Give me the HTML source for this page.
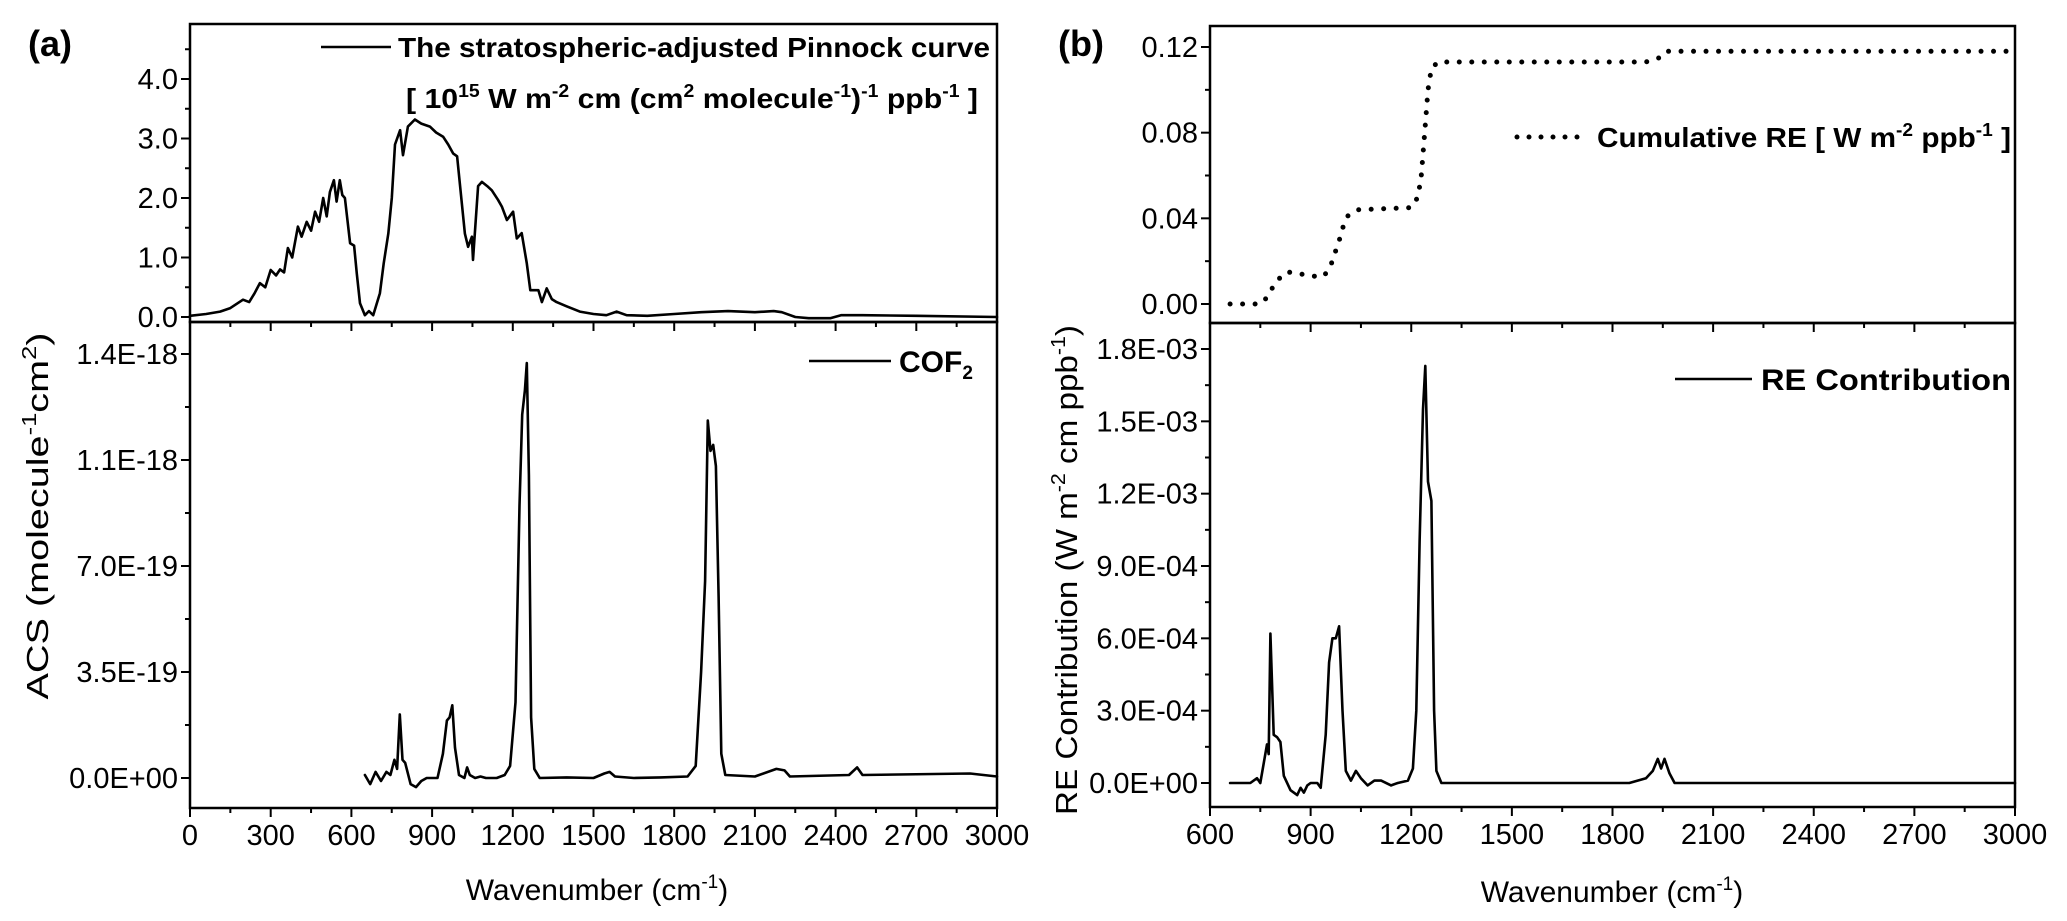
<!DOCTYPE html>
<html><head><meta charset="utf-8"><style>
html,body{margin:0;padding:0;background:#fff}
svg{display:block;font-family:"Liberation Sans",Arial,sans-serif}
</style></head><body>
<svg id="fig" width="2067" height="921" viewBox="0 0 2067 921" xmlns="http://www.w3.org/2000/svg">
<text x="28" y="56" font-size="36" font-weight="bold">(a)</text>
<text x="1058" y="56" font-size="36" font-weight="bold">(b)</text>
<g id="gA1"></g>
<g id="gA2"></g>
<g id="gB1"></g>
<g id="gB2"></g>

<g>
<line x1="321" y1="47" x2="391" y2="47" stroke="#000" stroke-width="2.5"/>
<text x="398" y="57" font-size="28" font-weight="bold" textLength="592" lengthAdjust="spacingAndGlyphs">The stratospheric-adjusted Pinnock curve</text>
<text x="406" y="108" font-size="28" font-weight="bold" textLength="572" lengthAdjust="spacingAndGlyphs">[ 10<tspan font-size="18" dy="-11">15</tspan><tspan dy="11"> W m</tspan><tspan font-size="18" dy="-11">-2</tspan><tspan dy="11"> cm (cm</tspan><tspan font-size="18" dy="-11">2</tspan><tspan dy="11"> molecule</tspan><tspan font-size="18" dy="-11">-1</tspan><tspan dy="11">)</tspan><tspan font-size="18" dy="-11">-1</tspan><tspan dy="11"> ppb</tspan><tspan font-size="18" dy="-11">-1</tspan><tspan dy="11"> ]</tspan></text>
</g>
<g>
<line x1="809" y1="361" x2="891" y2="361" stroke="#000" stroke-width="2.5"/>
<text x="899" y="372" font-size="30" font-weight="bold">COF<tspan font-size="19" dy="7">2</tspan></text>
</g>
<g>
<line x1="1517" y1="137" x2="1580" y2="137" stroke="#000" stroke-width="5" stroke-linecap="round" stroke-dasharray="0 12"/>
<text x="1597" y="147" font-size="28" font-weight="bold" textLength="414" lengthAdjust="spacingAndGlyphs">Cumulative RE [ W m<tspan font-size="18" dy="-11">-2</tspan><tspan dy="11"> ppb</tspan><tspan font-size="18" dy="-11">-1</tspan><tspan dy="11"> ]</tspan></text>
</g>
<g>
<line x1="1675" y1="379" x2="1752" y2="379" stroke="#000" stroke-width="2.5"/>
<text x="1761" y="390" font-size="30" font-weight="bold" textLength="250" lengthAdjust="spacingAndGlyphs">RE Contribution</text>
</g>

<text x="597" y="900" font-size="30" text-anchor="middle">Wavenumber (cm<tspan font-size="19" dy="-12">-1</tspan><tspan dy="12">)</tspan></text>
<text x="1612" y="902" font-size="30" text-anchor="middle">Wavenumber (cm<tspan font-size="19" dy="-12">-1</tspan><tspan dy="12">)</tspan></text>
<text transform="translate(48,516) rotate(-90)" font-size="31" text-anchor="middle" textLength="367" lengthAdjust="spacingAndGlyphs">ACS (molecule<tspan font-size="20" dy="-12">-1</tspan><tspan dy="12">cm</tspan><tspan font-size="20" dy="-12">2</tspan><tspan dy="12">)</tspan></text>
<text transform="translate(1077,570) rotate(-90)" font-size="31" text-anchor="middle" textLength="490" lengthAdjust="spacingAndGlyphs">RE Contribution (W m<tspan font-size="20" dy="-12">-2</tspan><tspan dy="12"> cm ppb</tspan><tspan font-size="20" dy="-12">-1</tspan><tspan dy="12">)</tspan></text>
</svg>
<script>
// ---- data ----
const pinnockX = [0,60,112,150,197,220,240,260,280,300,320,335,350,364,380,401,415,434,450,465,480,495,508,520,535,545,557,566,576,595,610,620,632,650,665,681,706,720,737,750,762,781,792,810,836,860,892,915,941,960,978,993,1004,1022,1034,1048,1052,1071,1085,1105,1122,1145,1160,1178,1201,1215,1233,1252,1265,1295,1308,1326,1345,1363,1400,1449,1500,1548,1586,1623,1700,1800,1900,2000,2100,2170,2200,2250,2300,2380,2420,2500,2700,3000];
const pinnockY = [0.02,0.05,0.09,0.15,0.29,0.25,0.4,0.57,0.5,0.79,0.7,0.8,0.75,1.16,1.0,1.52,1.35,1.6,1.45,1.77,1.6,2.0,1.69,2.1,2.3,1.94,2.3,2.05,2.0,1.24,1.2,0.73,0.23,0.03,0.1,0.03,0.4,0.9,1.4,2.0,2.9,3.14,2.72,3.2,3.32,3.25,3.2,3.1,3.03,2.9,2.75,2.7,2.2,1.4,1.18,1.35,0.96,2.2,2.27,2.2,2.13,1.97,1.85,1.63,1.77,1.32,1.41,0.9,0.45,0.45,0.25,0.48,0.3,0.25,0.18,0.09,0.05,0.03,0.09,0.03,0.02,0.05,0.08,0.1,0.08,0.1,0.08,0.0,-0.02,-0.02,0.03,0.03,0.02,0.0];
const acsX = [650,670,690,710,730,745,760,770,780,790,800,820,840,860,880,920,940,955,965,975,985,1000,1020,1030,1040,1060,1080,1100,1140,1170,1190,1210,1225,1235,1245,1252,1260,1268,1280,1300,1400,1500,1540,1560,1580,1650,1750,1850,1880,1900,1915,1925,1935,1945,1955,1965,1975,1990,2100,2180,2210,2230,2450,2480,2500,2900,2950,3000];
const acsY = [0.1,-0.2,0.2,-0.1,0.2,0.1,0.6,0.3,2.1,0.6,0.5,-0.2,-0.3,-0.1,0,0,0.8,1.9,2.0,2.4,1.0,0.1,0,0.35,0.1,0,0.05,0,0,0.1,0.4,2.5,9.0,12.0,12.8,13.7,10.0,2.0,0.3,0,0.02,0,0.15,0.2,0.05,0,0.02,0.05,0.4,3.5,6.5,11.8,10.8,11.0,10.3,6,0.8,0.1,0.05,0.3,0.25,0.05,0.1,0.35,0.1,0.15,0.1,0.05]; // x1e-19
const reX = [660,720,740,750,770,775,780,790,800,810,820,840,860,870,880,890,900,920,930,945,955,965,975,985,995,1005,1020,1035,1050,1070,1090,1110,1140,1160,1190,1205,1215,1225,1235,1242,1250,1260,1268,1275,1290,1850,1900,1920,1935,1945,1955,1970,1985,3000];
const reY = [0,0,0.2,0,1.6,1.2,6.2,2,1.9,1.7,0.3,-0.3,-0.5,-0.2,-0.4,-0.1,0,0,-0.2,2,5.0,6.0,6.0,6.5,3,0.5,0.1,0.5,0.2,-0.1,0.1,0.1,-0.1,0,0.1,0.6,3,10,15.5,17.3,12.5,11.7,3,0.5,0,0,0.2,0.5,1.0,0.6,1.0,0.4,0,0]; // x1e-4
const cumX = [660,700,740,760,780,800,830,870,910,940,960,975,990,1000,1010,1040,1200,1220,1230,1240,1250,1260,1280,1900,1940,1960,3000];
const cumY = [0,0,0,0.001,0.006,0.011,0.015,0.014,0.013,0.013,0.018,0.025,0.032,0.038,0.041,0.044,0.045,0.05,0.06,0.08,0.1,0.11,0.113,0.113,0.115,0.118,0.118];
const xTicksA = [0,300,600,900,1200,1500,1800,2100,2400,2700,3000];
const xTicksB = [600,900,1200,1500,1800,2100,2400,2700,3000];
const yTicksA1 = [0,1,2,3,4];
const yLabelsA1 = ["0.0","1.0","2.0","3.0","4.0"];
const yTicksA2 = [0,3.5,7,10.5,14];
const yLabelsA2 = ["0.0E+00","3.5E-19","7.0E-19","1.1E-18","1.4E-18"];
const yTicksB1 = [0,0.04,0.08,0.12];
const yLabelsB1 = ["0.00","0.04","0.08","0.12"];
const yTicksB2 = [0,3,6,9,12,15,18];
const yLabelsB2 = ["0.0E+00","3.0E-04","6.0E-04","9.0E-04","1.2E-03","1.5E-03","1.8E-03"];

const NS = "http://www.w3.org/2000/svg";
function mk(parent, tag, attrs){const e=document.createElementNS(NS,tag);for(const k in attrs)e.setAttribute(k,attrs[k]);parent.appendChild(e);return e;}
function lin(d0,d1,r0,r1){return v=>r0+(v-d0)*(r1-r0)/(d1-d0);}

function panel(g, cfg){
  const {L,R,T,B,xs,ys} = cfg;
  let d="";
  cfg.xData.forEach((v,i)=>{d+=(i?"L":"M")+xs(v).toFixed(1)+","+ys(cfg.yData[i]).toFixed(1);});
  const p = mk(g,"path",{d:d,fill:"none",stroke:"#000","stroke-width":cfg.dotted?5:2.6,"stroke-linejoin":"round","stroke-linecap":"round"});
  if(cfg.dotted){p.setAttribute("stroke-dasharray","0 12.5");}
  
  
  const fr = mk(g,"rect",{x:L,y:T,width:R-L,height:B-T,fill:"none",stroke:"#000","stroke-width":2.5});
  
  
  const ya = mk(g,"g",{});
  
  
  cfg.yTicks.forEach((v,i)=>{
    const y=ys(v);
    mk(ya,"line",{x1:L-9,x2:L,y1:y,y2:y,stroke:"#000","stroke-width":2});
    const t=mk(ya,"text",{x:L-12,y:y+10,"font-size":29,"text-anchor":"end"});
    t.textContent=cfg.yLabels[i];
    
    
    if(i<cfg.yTicks.length-1 || cfg.minorAbove){
      const m=(cfg.yTicks[1]-cfg.yTicks[0])/2; const ym=ys(v+m);
      if(ym>T+2) mk(ya,"line",{x1:L-5,x2:L,y1:ym,y2:ym,stroke:"#000","stroke-width":2});
    }
  });
  const xa = mk(g,"g",{});
  
  
  cfg.xTicks.forEach((v,i)=>{
    const x=xs(v);
    mk(xa,"line",{x1:x,x2:x,y1:B,y2:B+9,stroke:"#000","stroke-width":2});
    if(i<cfg.xTicks.length-1){const xm=xs(v+150);mk(xa,"line",{x1:xm,x2:xm,y1:B,y2:B+5,stroke:"#000","stroke-width":2});}
    if(cfg.xLabels){
      const t=mk(xa,"text",{x:x,y:B+37,"font-size":29,"text-anchor":"middle"});
      t.textContent=String(v);
      
      
    }
  });
}

{const L=190,R=997,T=24,B=322;
 panel(document.getElementById("gA1"),{name:"pinnock",seriesName:"pinnock-curve",L,R,T,B,xs:lin(0,3000,L,R),ys:lin(0,4,317,79),xData:pinnockX,yData:pinnockY,yTicks:yTicksA1,yLabels:yLabelsA1,xTicks:xTicksA,xLabels:false,minorAbove:true});}
{const L=190,R=997,T=322,B=808;
 panel(document.getElementById("gA2"),{name:"acs",seriesName:"cof2-acs-line",L,R,T,B,xs:lin(0,3000,L,R),ys:lin(0,14,778,354),xData:acsX,yData:acsY,yTicks:yTicksA2,yLabels:yLabelsA2,xTicks:xTicksA,xLabels:true,minorAbove:false});}
{const L=1210,R=2015,T=26,B=323;
 panel(document.getElementById("gB1"),{name:"cumulative",seriesName:"cumulative-re-dots",dotted:true,L,R,T,B,xs:lin(600,3000,L,R),ys:lin(0,0.12,304,47),xData:cumX,yData:cumY,yTicks:yTicksB1,yLabels:yLabelsB1,xTicks:xTicksB,xLabels:false,minorAbove:false});}
{const L=1210,R=2015,T=323,B=807;
 panel(document.getElementById("gB2"),{name:"re-contribution",seriesName:"re-contribution-line",L,R,T,B,xs:lin(600,3000,L,R),ys:lin(0,18,783,349),xData:reX,yData:reY,yTicks:yTicksB2,yLabels:yLabelsB2,xTicks:xTicksB,xLabels:true,minorAbove:true});}
</script>
</body></html>
